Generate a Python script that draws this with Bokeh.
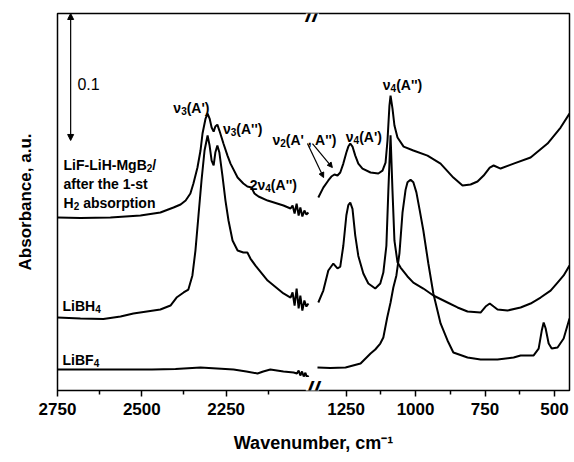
from bokeh.plotting import figure
from bokeh.models import Range1d, FixedTicker, Label, Arrow, NormalHead
from bokeh.embed import file_html
from bokeh.resources import INLINE

# ---------------- data (wavenumber, cm-1 / absorbance) ----------------
# LiBF4 (bottom trace)
libf4_left_wn = [2750, 2620, 2470, 2400, 2326, 2228, 2190, 2157, 2140, 2119, 2080, 2050,
                 2040, 2035, 2030, 2025, 2020, 2015, 2010, 2006]
libf4_left_abs = [0.0165, 0.0165, 0.0165, 0.0170, 0.0181, 0.0165, 0.0150, 0.0134, 0.0150,
                  0.0165, 0.0150, 0.0142, 0.0134, 0.0157, 0.0118, 0.0150, 0.0110, 0.0140,
                  0.0100, 0.0118]
libf4_right_wn = [1353, 1307, 1252, 1198, 1180, 1162, 1145, 1127, 1116, 1102,
                  1090, 1080, 1069, 1058, 1047, 1036, 1029, 1018, 1008, 997,
                  986, 972, 954, 936, 910, 885, 864, 813, 766, 705,
                  647, 622, 575, 557, 546, 539, 532, 521, 510, 489, 467, 446]
libf4_right_abs = [0.0181, 0.0177, 0.0181, 0.0213, 0.0252, 0.0291, 0.0323, 0.0370, 0.0417, 0.0575,
                   0.0693, 0.0811, 0.0906, 0.1080, 0.1400, 0.1580, 0.1640, 0.1660, 0.1640, 0.1560,
                   0.1430, 0.1260, 0.1000, 0.0764, 0.0528, 0.0394, 0.0299, 0.0260, 0.0244, 0.0244,
                   0.0260, 0.0276, 0.0276, 0.0330, 0.0470, 0.0535, 0.0490, 0.0370, 0.0330, 0.0339,
                   0.0410, 0.0567]

# LiBH4 (middle trace)
libh4_left_wn = [2750, 2682, 2614, 2563, 2525, 2445, 2415, 2397, 2376, 2362, 2350, 2341, 2332,
                 2323, 2314, 2305, 2299, 2293, 2287, 2282, 2276, 2270, 2261, 2252, 2243, 2231,
                 2216, 2199, 2187, 2178, 2163, 2127, 2080, 2059, 2053, 2047, 2041, 2035, 2030,
                 2024, 2018, 2012, 2006]
libh4_left_abs = [0.0575, 0.0567, 0.0563, 0.0583, 0.0606, 0.0638, 0.0669, 0.0732, 0.0772, 0.0795,
                  0.0906, 0.1102, 0.1378, 0.1654, 0.1890, 0.2008, 0.1929, 0.1811, 0.1772, 0.1874,
                  0.1929, 0.1874, 0.1693, 0.1496, 0.1339, 0.1181, 0.1102, 0.1087, 0.1087, 0.1039,
                  0.0984, 0.0866, 0.0764, 0.0732, 0.0772, 0.0669, 0.0803, 0.0646, 0.0748, 0.0630,
                  0.0709, 0.0661, 0.0685]
libh4_right_wn = [1350, 1332, 1314, 1296, 1281, 1271, 1260, 1249, 1242, 1235,
                  1227, 1217, 1206, 1188, 1170, 1145, 1127, 1116, 1105, 1098,
                  1090, 1083, 1076, 1065, 1054, 1029, 1008, 972, 936, 885,
                  849, 813, 766, 748, 733, 719, 705, 669, 622, 586,
                  550, 514, 489, 467, 446]
libh4_right_abs = [0.0693, 0.0787, 0.0945, 0.1000, 0.0961, 0.0976, 0.1140, 0.1380, 0.1460, 0.1480,
                   0.1430, 0.1220, 0.1060, 0.0921, 0.0843, 0.0803, 0.0843, 0.0929, 0.1140, 0.1570,
                   0.2010, 0.1570, 0.1180, 0.1010, 0.0968, 0.0898, 0.0850, 0.0803, 0.0748, 0.0693,
                   0.0654, 0.0622, 0.0614, 0.0661, 0.0685, 0.0661, 0.0638, 0.0630, 0.0654, 0.0685,
                   0.0732, 0.0787, 0.0850, 0.0906, 0.0984]

# LiF-LiH-MgB2 after the 1-st H2 absorption (top trace)
mix_left_wn = [2750, 2682, 2593, 2504, 2445, 2406, 2385, 2370, 2356, 2347,
               2335, 2326, 2320, 2311, 2305, 2299, 2293, 2287, 2282, 2276,
               2270, 2258, 2246, 2237, 2216, 2199, 2187, 2175, 2166, 2154,
               2127, 2080, 2059, 2053, 2047, 2041, 2035, 2030, 2024, 2018, 2012, 2006]
mix_left_abs = [0.1362, 0.1358, 0.1362, 0.1378, 0.1402, 0.1441, 0.1465, 0.1496, 0.1551, 0.1630,
                0.1756, 0.1890, 0.2024, 0.2142, 0.2181, 0.2142, 0.2071, 0.2039, 0.2079, 0.2094,
                0.2047, 0.1945, 0.1850, 0.1787, 0.1677, 0.1630, 0.1606, 0.1598, 0.1551, 0.1528,
                0.1496, 0.1457, 0.1433, 0.1457, 0.1394, 0.1472, 0.1378, 0.1441, 0.1370, 0.1417,
                0.1386, 0.1402]
mix_right_wn = [1350, 1332, 1314, 1303, 1292, 1281, 1271, 1260, 1249, 1242,
                1235, 1227, 1217, 1206, 1191, 1162, 1134, 1119, 1108, 1101,
                1094, 1090, 1083, 1076, 1065, 1043, 1008, 957, 910, 864,
                831, 802, 777, 755, 733, 719, 694, 647, 586, 525, 478, 446]
mix_right_abs = [0.1520, 0.1598, 0.1654, 0.1685, 0.1701, 0.1693, 0.1717, 0.1787, 0.1874, 0.1921,
                 0.1945, 0.1921, 0.1850, 0.1787, 0.1748, 0.1717, 0.1709, 0.1732, 0.1795, 0.1969,
                 0.2244, 0.2323, 0.2220, 0.2087, 0.1992, 0.1921, 0.1890, 0.1850, 0.1787, 0.1677,
                 0.1614, 0.1622, 0.1646, 0.1693, 0.1756, 0.1772, 0.1748, 0.1787, 0.1835, 0.1945,
                 0.2071, 0.2181]

# axis ticks
left_major_ticks = [2750, 2500, 2250]
left_minor_ticks = [2625, 2375, 2125]
right_major_ticks = [1250, 1000, 750, 500]
right_minor_ticks = [1125, 875, 625]

# ---------------- broken x axis: two segments in one frame ----------------
BREAK_FRAC = 0.498          # fraction of frame width used by the left segment
LEFT_SPAN = (2750, 1994)
RIGHT_SPAN = (1371, 446)
Y_SPAN = (0, 0.2969)

x0, x1 = LEFT_SPAN
main_end = x0 + (x1 - x0) / BREAK_FRAC
r0, r1 = RIGHT_SPAN
right_start = r1 - (r1 - r0) / (1 - BREAK_FRAC)


def right_to_main(v):
    t = (v - right_start) / (r1 - right_start)
    return round(x0 + t * (main_end - x0), 6)


FONT = "Liberation Sans"

p = figure(width=572, height=460, output_backend="svg", toolbar_location=None,
           x_range=Range1d(x0, main_end), y_range=Range1d(*Y_SPAN),
           min_border_left=57, min_border_right=3, min_border_top=13, min_border_bottom=70)
p.extra_x_ranges = {"right": Range1d(right_start, r1)}
p.grid.visible = False
p.outline_line_color = "black"
p.outline_line_width = 1.5
p.background_fill_color = "white"
p.border_fill_color = "white"

# x axis
major = left_major_ticks + [right_to_main(v) for v in right_major_ticks]
minor = left_minor_ticks + [right_to_main(v) for v in right_minor_ticks]
xa = p.xaxis[0]
xa.ticker = FixedTicker(ticks=major, minor_ticks=minor)
xa.major_label_overrides = {right_to_main(v): str(v) for v in right_major_ticks}
xa.axis_line_color = None
xa.major_tick_in = 0
xa.major_tick_out = 6
xa.minor_tick_in = 0
xa.minor_tick_out = 4
xa.major_tick_line_width = 1.5
xa.minor_tick_line_width = 1.5
xa.major_label_text_font = FONT
xa.major_label_text_font_style = "bold"
xa.major_label_text_font_size = "17px"
xa.major_label_text_color = "black"
xa.major_label_standoff = 6
xa.axis_label = "Wavenumber, cm⁻¹"
xa.axis_label_text_font = FONT
xa.axis_label_text_font_style = "bold"
xa.axis_label_text_font_size = "18px"
xa.axis_label_text_color = "black"
xa.axis_label_standoff = 15

# y axis (label only)
ya = p.yaxis[0]
ya.ticker = FixedTicker(ticks=[])
ya.axis_line_color = None
ya.major_tick_line_color = None
ya.minor_tick_line_color = None
ya.major_label_text_font_size = "0px"
ya.axis_label = "Absorbance, a.u."
ya.axis_label_text_font = FONT
ya.axis_label_text_font_style = "bold"
ya.axis_label_text_font_size = "17px"
ya.axis_label_text_color = "black"
ya.axis_label_standoff = 23

# spectra
LW = 2
for wn, ab in [(libf4_left_wn, libf4_left_abs), (libh4_left_wn, libh4_left_abs),
               (mix_left_wn, mix_left_abs)]:
    p.line(wn, ab, line_color="black", line_width=LW)
for wn, ab in [(libf4_right_wn, libf4_right_abs), (libh4_right_wn, libh4_right_abs),
               (mix_right_wn, mix_right_abs)]:
    p.line(wn, ab, line_color="black", line_width=LW, x_range_name="right")

# ---------------- text with subscripts ----------------
# advance widths of Liberation Sans Bold (Arial Bold metrics), per 1000 em
ADV = {" ": 278, "(": 333, ")": 333, "'": 238, ",": 278, "-": 333, "/": 278,
       "1": 556, "2": 556, "3": 556, "4": 556, "A": 722, "B": 722, "F": 611,
       "H": 722, "L": 611, "M": 833, "a": 556, "b": 611, "e": 556, "f": 333,
       "g": 611, "h": 611, "i": 278, "n": 611, "o": 611, "p": 611, "r": 389,
       "s": 556, "t": 333, "ν": 556}
MAIN = 14
SUB = 10


def text_width(s, size):
    return sum(ADV.get(c, 556) for c in s) * size / 1000.0


def rich_label(parts, x, y, align="left", rng="default"):
    """parts: list of (text, is_subscript)"""
    widths = [text_width(t, SUB if s else MAIN) for t, s in parts]
    off = -sum(widths) / 2.0 if align == "center" else 0.0
    for (t, s), w in zip(parts, widths):
        size = SUB if s else MAIN
        lead = len(t) - len(t.lstrip(" "))
        shown = t.lstrip(" ")
        p.add_layout(Label(x=x, y=y, x_offset=off + text_width(" " * lead, size),
                           y_offset=-3 if s else 0, text=shown,
                           x_range_name=rng, text_font=FONT,
                           text_font_size=f"{size}px", text_font_style="bold",
                           text_color="black", text_align="left", text_baseline="alphabetic"))
        off += w


# scale bar
p.add_layout(Arrow(x_start=2711, y_start=Y_SPAN[1], x_end=2711, y_end=Y_SPAN[1] - 0.1,
                   start=NormalHead(size=6, fill_color="black", line_color="black"),
                   end=NormalHead(size=6, fill_color="black", line_color="black"),
                   line_color="black", line_width=1.2))
p.add_layout(Label(x=2691, y=0.2417, text="0.1", text_font=FONT, text_font_size="16px",
                   text_color="black", text_baseline="alphabetic"))

# band assignments
rich_label([("ν", 0), ("3", 1), ("(A')", 0)], 2353, 0.2228, align="center")
rich_label([("ν", 0), ("3", 1), ("(A'')", 0)], 2201, 0.2063, align="center")
rich_label([("2ν", 0), ("4", 1), ("(A'')", 0)], 2110, 0.1622, align="center")
rich_label([("ν", 0), ("2", 1), ("(A' , A'')", 0)], 2017, 0.1969, align="center")
rich_label([("ν", 0), ("4", 1), ("(A')", 0)], 1186, 0.2000, align="center", rng="right")
rich_label([("ν", 0), ("4", 1), ("(A'')", 0)], 1047, 0.2402, align="center", rng="right")
for xs, xe, ye in [(2009, 1961, 0.1677), (1994, 1935, 0.1756)]:
    p.add_layout(Arrow(x_start=xs, y_start=0.1945, x_end=xe, y_end=ye,
                       end=NormalHead(size=5, fill_color="black", line_color="black"),
                       line_color="black", line_width=1.2))

# sample names
rich_label([("LiF-LiH-MgB", 0), ("2", 1), ("/", 0)], 2732, 0.1772)
rich_label([("after the 1-st", 0)], 2732, 0.1630)
rich_label([("H", 0), ("2", 1), (" absorption", 0)], 2732, 0.1480)
rich_label([("LiBH", 0), ("4", 1)], 2735, 0.0669)
rich_label([("LiBF", 0), ("4", 1)], 2735, 0.0244)

# axis break marks
for yb in Y_SPAN:
    p.add_layout(Label(x=x1, y=yb, text="//", text_font=FONT, text_font_size="24px",
                       text_font_style="bold italic", text_color="black", text_align="center",
                       text_baseline="middle", background_fill_color="white"))

open("out.html", "w").write(file_html(p, INLINE))
